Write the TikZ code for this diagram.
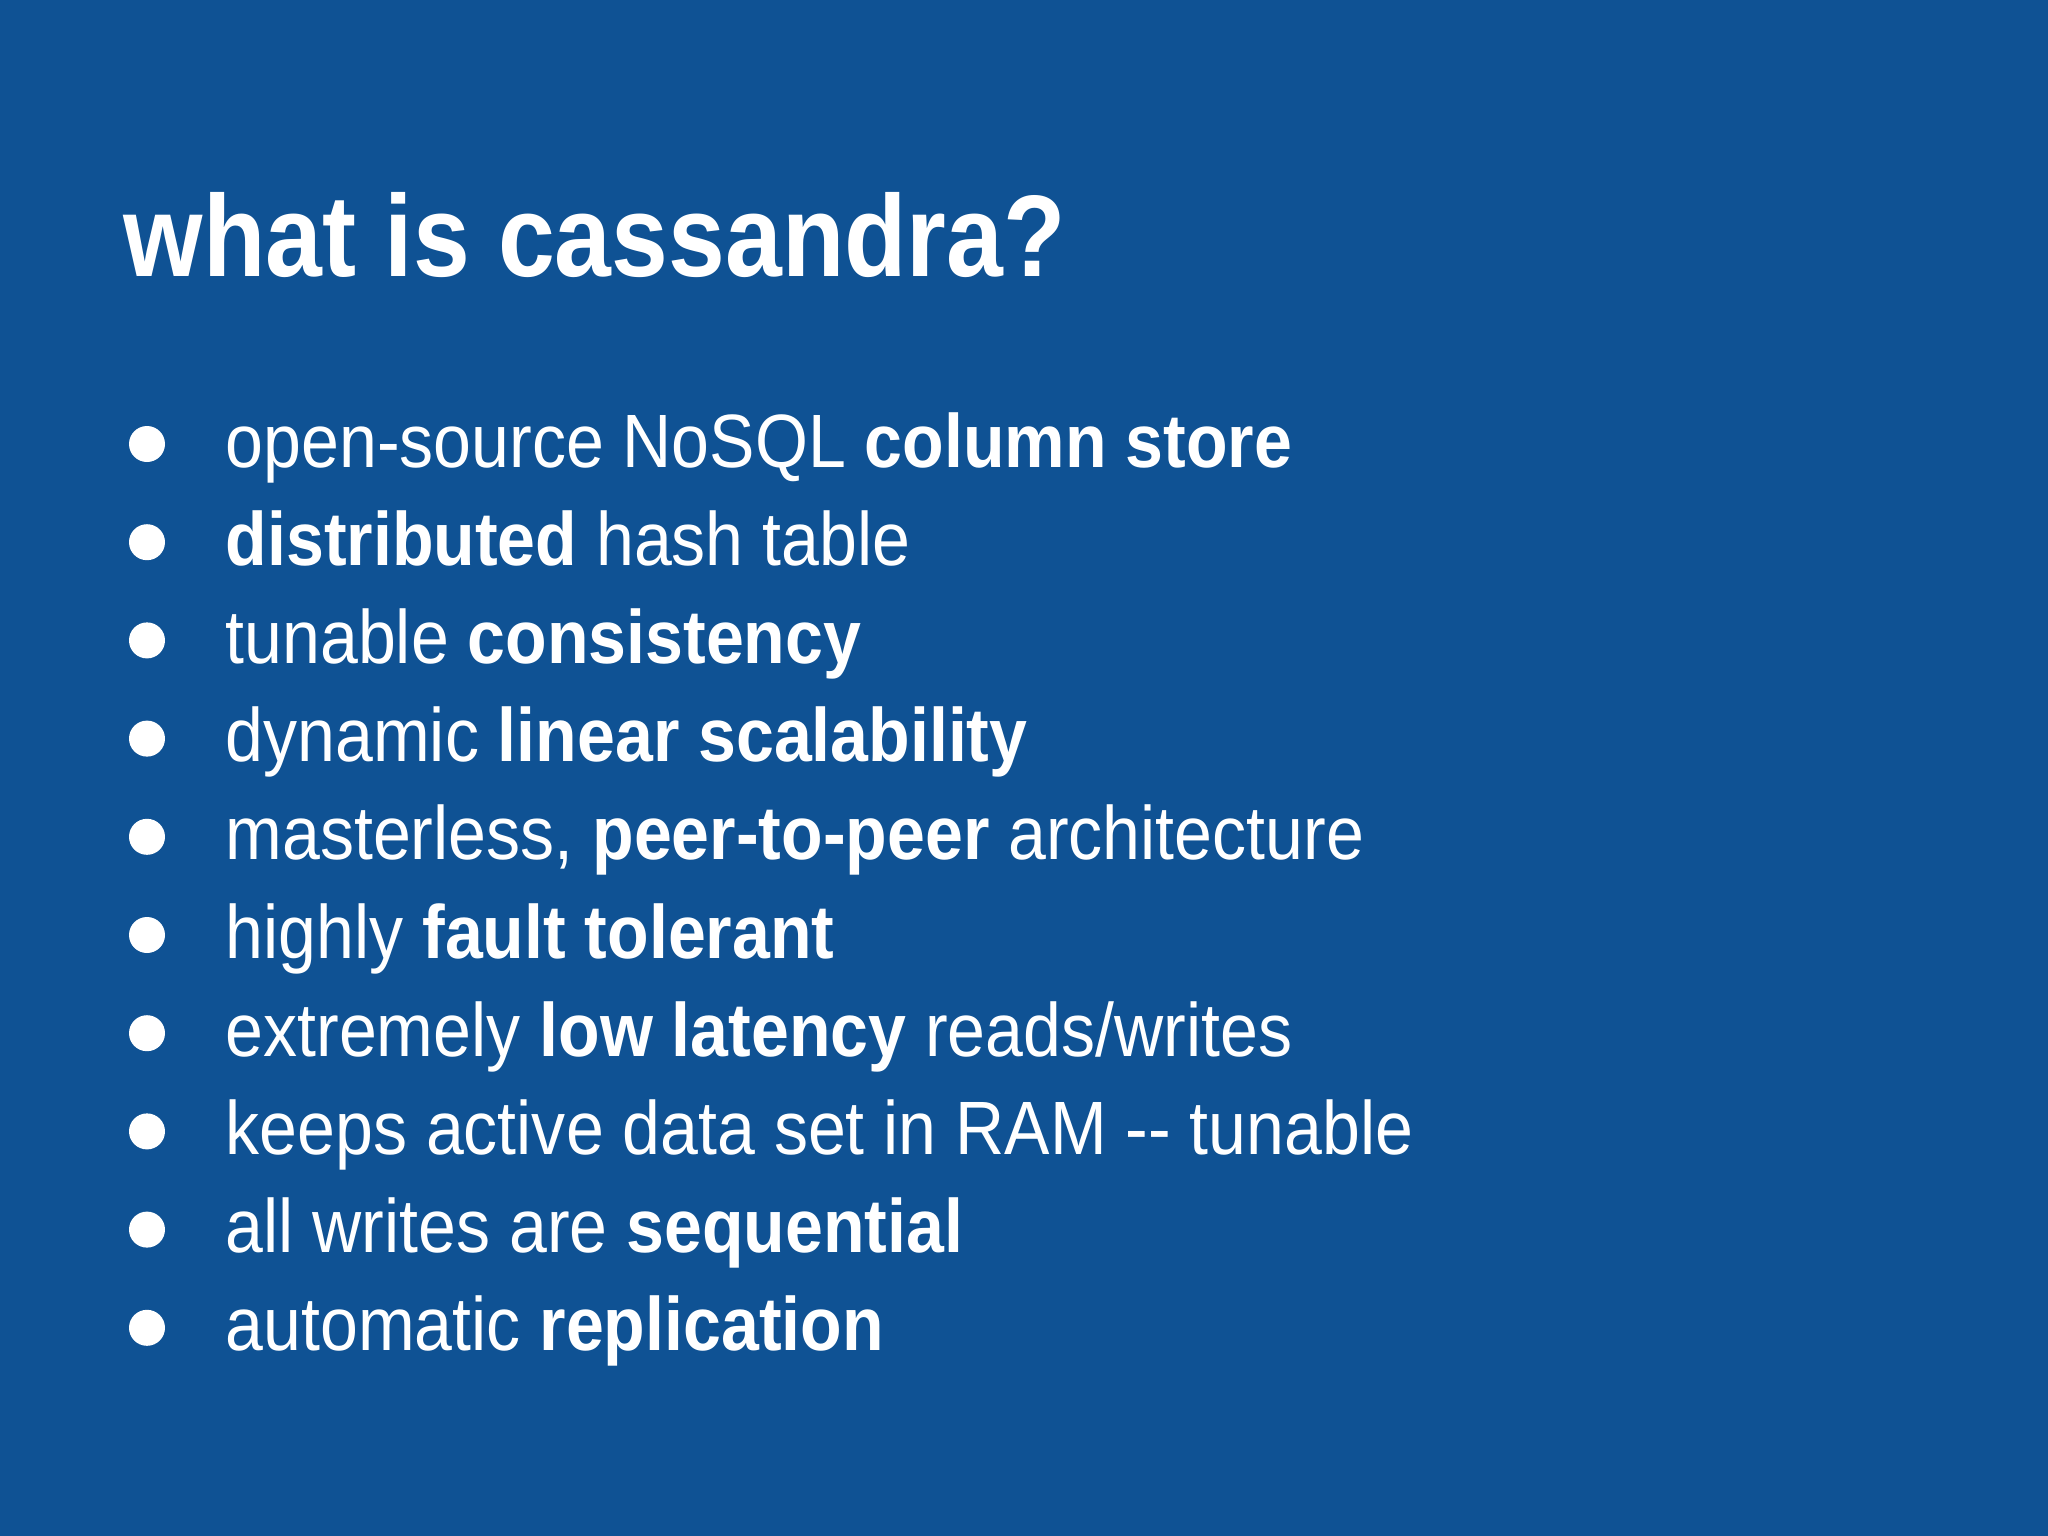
\documentclass[tikz,border=0pt]{standalone}
\usepackage{graphicx}
\usepackage{fontspec}
\setmainfont{Liberation Sans}
\definecolor{bg}{HTML}{0F5294}
\begin{document}
\begin{tikzpicture}[x=0.01cm,y=-0.01cm,
  item/.style={anchor=base west,inner sep=0pt,text=white,font=\fontsize{21.5}{26}\selectfont},
  dot/.style={fill=white,draw=none}]
\fill[bg] (0,0) rectangle (2048,1536);
\node[anchor=base west,inner sep=0pt,text=white,font=\fontsize{33}{40}\selectfont\bfseries] (title) at (123,276) {\scalebox{0.88}[1]{what is cassandra?}};
\foreach \i/\t in {0/{open-source NoSQL \textbf{column store}},
  1/{\textbf{distributed} hash table},
  2/{tunable \textbf{consistency}},
  3/{dynamic \textbf{linear scalability}},
  4/{masterless, \textbf{peer-to-peer} architecture},
  5/{highly \textbf{fault tolerant}},
  6/{extremely \textbf{low latency} reads/writes},
  7/{keeps active data set in RAM -{}- tunable},
  8/{all writes are \textbf{sequential}},
  9/{automatic \textbf{replication}}}{
  \node[item] (t\i) at (225,{467+98.2*\i}) {\scalebox{0.9}[1]{\t}};
  \fill[dot] (147,{444+98.2*\i}) circle (18);
}
\end{tikzpicture}
\end{document}
